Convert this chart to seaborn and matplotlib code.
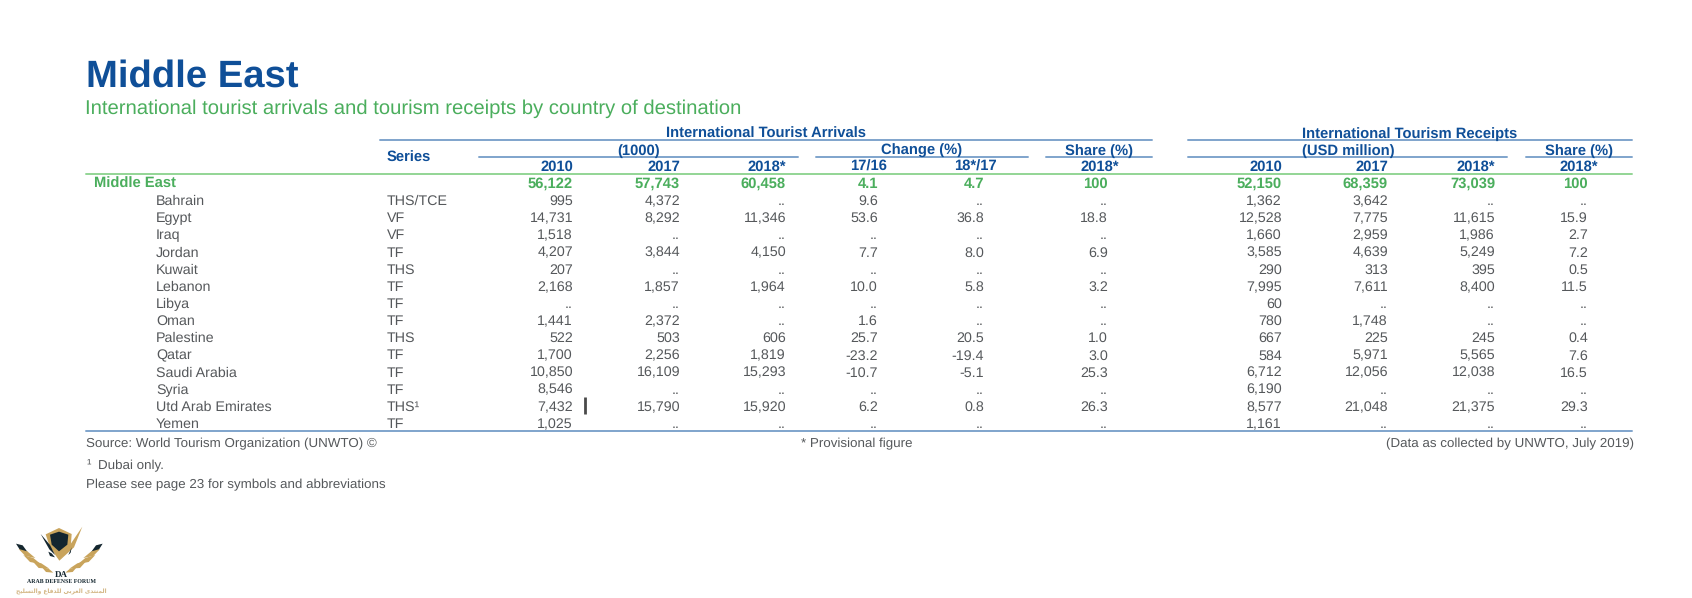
import pandas as pd
import matplotlib.pyplot as plt
from matplotlib.patches import Polygon
import seaborn as sns

sns.set_theme(style='white')
plt.rcParams['font.family'] = ['Liberation Sans', 'DejaVu Sans']
plt.rcParams['text.hinting'] = 'no_hinting'

# table content
countries = ['Bahrain', 'Egypt', 'Iraq', 'Jordan', 'Kuwait', 'Lebanon', 'Libya', 'Oman',
             'Palestine', 'Qatar', 'Saudi Arabia', 'Syria', 'Utd Arab Emirates', 'Yemen']
series = ['THS/TCE', 'VF', 'VF', 'TF', 'THS', 'TF', 'TF', 'TF', 'THS', 'TF', 'TF', 'TF', 'THS\u00b9', 'TF']
arrivals_2010 = ['56,122', '995', '14,731', '1,518', '4,207', '207', '2,168', '..', '1,441', '522', '1,700', '10,850', '8,546', '7,432', '1,025']
arrivals_2017 = ['57,743', '4,372', '8,292', '..', '3,844', '..', '1,857', '..', '2,372', '503', '2,256', '16,109', '..', '15,790', '..']
arrivals_2018 = ['60,458', '..', '11,346', '..', '4,150', '..', '1,964', '..', '..', '606', '1,819', '15,293', '..', '15,920', '..']
change_1716 = ['4.1', '9.6', '53.6', '..', '7.7', '..', '10.0', '..', '1.6', '25.7', '-23.2', '-10.7', '..', '6.2', '..']
change_1817 = ['4.7', '..', '36.8', '..', '8.0', '..', '5.8', '..', '..', '20.5', '-19.4', '-5.1', '..', '0.8', '..']
arrivals_share = ['100', '..', '18.8', '..', '6.9', '..', '3.2', '..', '..', '1.0', '3.0', '25.3', '..', '26.3', '..']
receipts_2010 = ['52,150', '1,362', '12,528', '1,660', '3,585', '290', '7,995', '60', '780', '667', '584', '6,712', '6,190', '8,577', '1,161']
receipts_2017 = ['68,359', '3,642', '7,775', '2,959', '4,639', '313', '7,611', '..', '1,748', '225', '5,971', '12,056', '..', '21,048', '..']
receipts_2018 = ['73,039', '..', '11,615', '1,986', '5,249', '395', '8,400', '..', '..', '245', '5,565', '12,038', '..', '21,375', '..']
receipts_share = ['100', '..', '15.9', '2.7', '7.2', '0.5', '11.5', '..', '..', '0.4', '7.6', '16.5', '..', '29.3', '..']

columns = [arrivals_2010, arrivals_2017, arrivals_2018, change_1716, change_1817, arrivals_share,
           receipts_2010, receipts_2017, receipts_2018, receipts_share]
column_heads = ['2010', '2017', '2018*', '17/16', '18*/17', '2018*', '2010', '2017', '2018*', '2018*']

# layout in pixels
value_right = [573, 680, 786, 878, 984, 1108, 1282, 1388, 1495, 1588]
head_right = [573, 680, 786, 887, 997, 1119, 1282, 1388, 1495, 1598]
first_row = 188
row_step = 17.14

BLUE = '#0f4f98'
GREEN = '#4bae5d'
GREY = '#55585b'
RULE_BLUE = '#7fa4cc'
RULE_GREEN = '#93d595'
GOLD = '#c9a45c'
DARK = '#14262f'

fig, ax = plt.subplots(figsize=(16.92, 5.98), dpi=100)
fig.subplots_adjust(0, 0, 1, 1)

# table rules
rules = [(380, 1152, 140, 'blue'), (1188, 1632, 140, 'blue'),
         (479, 798, 157, 'blue'), (816, 1028, 157, 'blue'), (1046, 1152, 157, 'blue'),
         (1188, 1507, 157, 'blue'), (1526, 1632, 157, 'blue'),
         (86, 1632, 174, 'green'), (86, 1632, 431, 'blue')]
rule_rows = []
for i, (x0, x1, y, kind) in enumerate(rules):
    rule_rows.append({'rule': i, 'x': x0, 'y': y, 'kind': kind})
    rule_rows.append({'rule': i, 'x': x1, 'y': y, 'kind': kind})
rule_df = pd.DataFrame(rule_rows)
sns.lineplot(data=rule_df, x='x', y='y', units='rule', hue='kind', estimator=None, sort=False,
             palette={'blue': RULE_BLUE, 'green': RULE_GREEN}, linewidth=1.4, legend=False, ax=ax)

ax.set_xlim(0, 1692)
ax.set_ylim(598, 0)
ax.axis('off')

# titles
ax.text(86, 87, 'Middle East', fontsize=27.5, fontweight='bold', color=BLUE)
ax.text(85, 114, 'International tourist arrivals and tourism receipts by country of destination',
        fontsize=14.6, color=GREEN)

# header block
head = dict(fontsize=10.6, fontweight='bold', color=BLUE)
ax.text(666, 137.6, 'International Tourist Arrivals', **head)
ax.text(1302, 137.6, 'International Tourism Receipts', **head)
ax.text(617, 155, '(1000)', **head)
ax.text(881, 155, 'Change (%)', **head)
ax.text(1065, 155, 'Share (%)', **head)
ax.text(1302, 155, '(USD million)', **head)
ax.text(1545, 155, 'Share (%)', **head)
ax.text(387, 162, 'Series', **head)
for right, label in zip(head_right, column_heads):
    ax.text(right, 171, label, ha='right', **head)

# table body
ax.text(94, first_row, 'Middle East', fontsize=10.6, fontweight='bold', color=GREEN)
for i, name in enumerate(countries):
    y = first_row + row_step * (i + 1)
    ax.text(156, y, name, fontsize=10.3, color=GREY)
    ax.text(387, y, series[i], fontsize=10.3, color=GREY)
for right, values in zip(value_right, columns):
    for i, value in enumerate(values):
        y = first_row + row_step * i
        if i == 0:
            ax.text(right, y, value, ha='right', fontsize=10.6, fontweight='bold', color=GREEN)
        else:
            ax.text(right, y, value, ha='right', fontsize=10.3, color=GREY)

# change bar next to the UAE figure
ax.vlines(585, 397, 414, color='#4a4a4a', linewidth=2)

# notes
note = dict(fontsize=9.6, color=GREY)
ax.text(86, 447, 'Source: World Tourism Organization (UNWTO) \u00a9', **note)
ax.text(801, 447, '* Provisional figure', **note)
ax.text(1634, 447, '(Data as collected by UNWTO, July 2019)', ha='right', **note)
ax.text(86, 469, '\u00b9', **note)
ax.text(98, 469, 'Dubai only.', **note)
ax.text(86, 488, 'Please see page 23 for symbols and abbreviations', **note)


# forum logo, shapes given in 3x crop units
def logo_shape(points, color, mirror=False):
    pts = []
    for px, py in points:
        if mirror:
            px = 356 - px
        pts.append((px / 3, 510 + py / 3))
    ax.add_patch(Polygon(pts, closed=True, facecolor=color, edgecolor='none'))


logo_shape([(137, 73), (177, 54), (215, 72), (212, 112), (178, 152), (150, 112)], GOLD)
logo_shape([(178, 152), (247, 50), (222, 112)], GOLD)
logo_shape([(150, 74), (177, 65), (205, 74), (202, 104), (177, 124), (155, 104)], DARK)
logo_shape([(122, 72), (150, 105), (165, 135), (148, 118)], DARK)
logo_shape([(145, 125), (155, 130), (165, 142), (150, 138)], DARK)
logo_shape([(205, 135), (215, 112), (212, 128)], DARK)
for side in [False, True]:
    logo_shape([(48, 101), (68, 106), (84, 128), (60, 120)], DARK, mirror=side)
    logo_shape([(56, 117), (82, 124), (106, 144), (76, 138)], GOLD, mirror=side)
    logo_shape([(70, 135), (100, 144), (122, 162), (90, 156)], GOLD, mirror=side)
    logo_shape([(96, 152), (124, 160), (148, 176), (116, 174)], GOLD, mirror=side)
    logo_shape([(126, 172), (146, 176), (160, 188), (138, 186)], GOLD, mirror=side)
ax.text(61, 577, 'DA', ha='center', fontsize=6.5, fontweight='bold', family='Liberation Serif', color=DARK)
ax.text(61, 584, 'ARAB DEFENSE FORUM', ha='center', fontsize=4.2, fontweight='bold',
        family='Liberation Serif', color=DARK)
# matplotlib does not join Arabic, so joined letter forms in visual order
forum_ar = ('\ufe8d\ufedf\ufee4\ufee8\ufe98\ufeaa\ufeef \ufe8d\ufedf\ufecc\ufeae\ufe91\ufef2 '
            '\ufedf\ufee0\ufeaa\ufed3\ufe8e\ufec9 \ufeed\ufe8d\ufedf\ufe98\ufeb4\ufee0\ufef4\ufea2')[::-1]
ax.text(61, 594, forum_ar, ha='center', fontsize=4.2, fontweight='bold', family='DejaVu Sans', color='#d3b684')

fig.savefig('out.png', dpi=100)
